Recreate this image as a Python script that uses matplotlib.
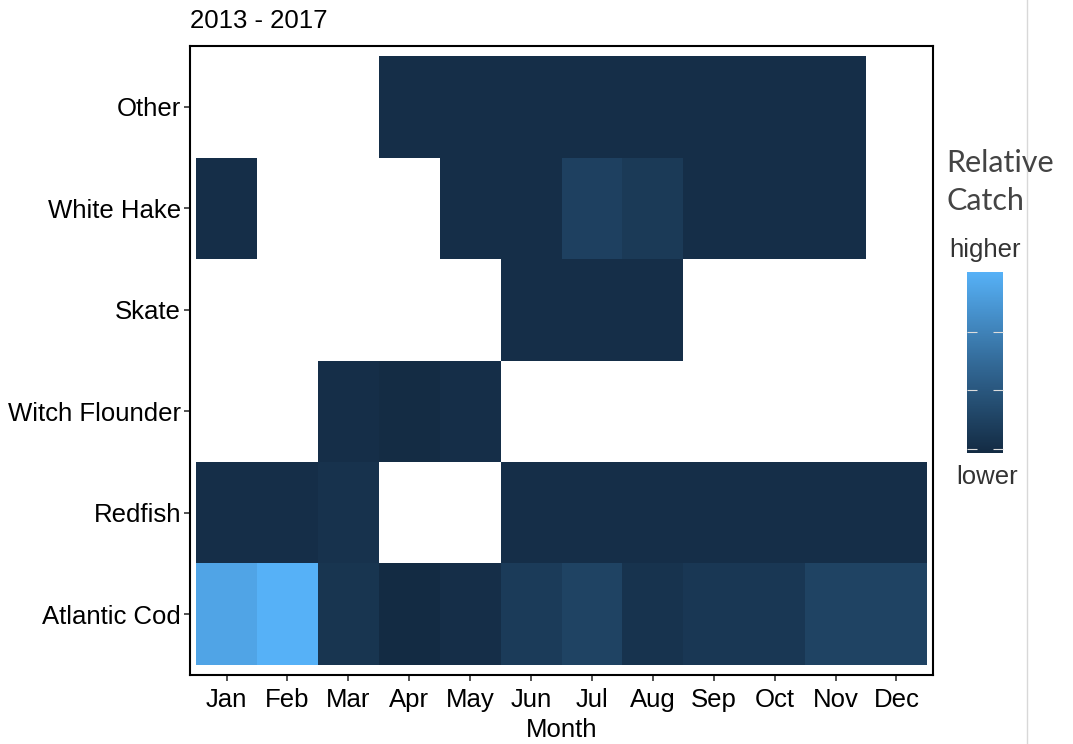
import numpy as np
import matplotlib
matplotlib.use('Agg')
import matplotlib.pyplot as plt
import matplotlib as mpl
from matplotlib.colors import LinearSegmentedColormap
from matplotlib.lines import Line2D

months = ['Jan', 'Feb', 'Mar', 'Apr', 'May', 'Jun',
          'Jul', 'Aug', 'Sep', 'Oct', 'Nov', 'Dec']
species = ['Atlantic Cod', 'Redfish', 'Witch Flounder', 'Skate',
           'White Hake', 'Other']

# relative catch per month (None = no catch recorded)
atlantic_cod = [0.91, 1.00, 0.08, 0.00, 0.03, 0.13, 0.19, 0.07, 0.10, 0.10, 0.19, 0.19]
redfish = [0.03, 0.03, 0.06, None, None, 0.03, 0.03, 0.03, 0.03, 0.03, 0.03, 0.03]
witch_flounder = [None, None, 0.03, 0.01, 0.03, None, None, None, None, None, None, None]
skate = [None, None, None, None, None, 0.03, 0.03, 0.03, None, None, None, None]
white_hake = [0.03, None, None, None, 0.03, 0.03, 0.17, 0.12, 0.03, 0.03, 0.03, None]
other = [None, None, None, 0.03, 0.03, 0.03, 0.03, 0.03, 0.03, 0.03, 0.03, None]

bar_ticks = [0.02, 0.35, 0.67]

rows = [atlantic_cod, redfish, witch_flounder, skate, white_hake, other]
z = np.array([[np.nan if v is None else v for v in r] for r in rows], dtype=float)
z = np.ma.masked_invalid(z)

# ggplot2 default continuous fill (Lab-ish interpolation)
cmap = LinearSegmentedColormap.from_list(
    'gg', [(0, '#132B43'), (0.5, '#336A98'), (1, '#56B1F7')])

plt.rcParams['font.family'] = ['Liberation Sans', 'DejaVu Sans']
W, H = 1073, 744
fig = plt.figure(figsize=(W / 100, H / 100), dpi=100)
ax = fig.add_axes([190 / W, (H - 675) / H, (933 - 190) / W, (675 - 46) / H])

xe = np.arange(0.5, 13.5, 1)
ye = np.arange(0.5, 7.5, 1)
ax.pcolormesh(xe, ye, z, cmap=cmap, vmin=0, vmax=1)
ax.set_xlim(0.4, 12.6)
ax.set_ylim(0.4, 6.6)

ax.set_xticks(range(1, 13))
ax.set_xticklabels(months)
ax.set_yticks(range(1, 7))
ax.set_yticklabels(species)
ax.tick_params(labelsize=18.5, length=4.5, width=1.2, color='#333333',
               labelcolor='black')
ax.tick_params(axis='x', pad=5)
ax.tick_params(axis='y', pad=2)
for s in ax.spines.values():
    s.set_linewidth(1.5)
    s.set_color('black')
ax.set_xlabel('Month', fontsize=18.5, labelpad=4)
ax.set_title('2013 - 2017', loc='left', fontsize=18.5, pad=13)

# colour bar
cax = fig.add_axes([967 / W, (H - 453) / H, 36 / W, (453 - 272) / H])
cb = fig.colorbar(mpl.cm.ScalarMappable(norm=mpl.colors.Normalize(0, 1), cmap=cmap),
                  cax=cax, ticks=bar_ticks)
cb.outline.set_visible(False)
cax.yaxis.set_ticks_position('both')
cax.tick_params(direction='in', length=7, width=0.8, colors='#dddddd',
                labelleft=False, labelright=False)

fig.text(946 / W, 1 - 163 / H, 'Relative', fontsize=22, color='#444444',
         family=['Lato', 'DejaVu Sans'], va='center', ha='left')
fig.text(946 / W, 1 - 201 / H, 'Catch', fontsize=22, color='#444444',
         family=['Lato', 'DejaVu Sans'], va='center', ha='left')
fig.text(985 / W, 1 - 250 / H, 'higher', fontsize=18.5, color='#333333',
         va='center', ha='center')
fig.text(987 / W, 1 - 477 / H, 'lower', fontsize=18.5, color='#333333',
         va='center', ha='center')

fig.add_artist(Line2D([1027 / W, 1027 / W], [0, 1], color='#d8d8d8', lw=1))

fig.savefig('out.png', dpi=100)
